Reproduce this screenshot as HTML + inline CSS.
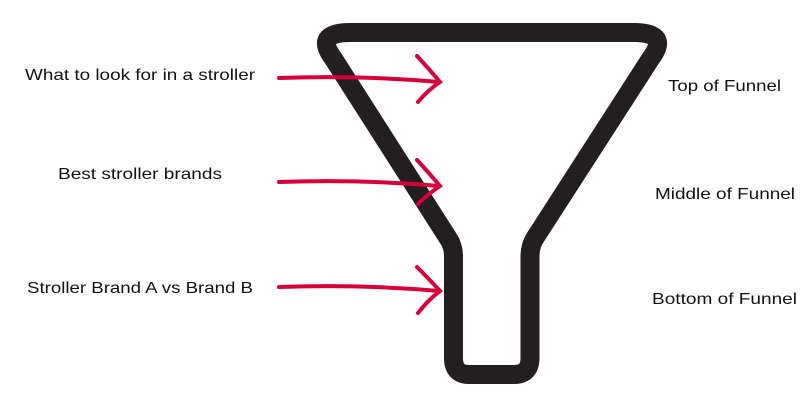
<!DOCTYPE html>
<html><head><meta charset="utf-8"><style>html,body{margin:0;padding:0;background:#fff;}svg{display:block}</style></head>
<body>
<svg width="805" height="404" viewBox="0 0 805 404" xmlns="http://www.w3.org/2000/svg">
<path d="M350,32.5 H634 Q670,32.5 651,58 L535,238 Q530,246 530,256 V358 Q530,374.5 514,374.5 H469 Q453.5,374.5 453.5,358 V256 Q453.5,246 448,238 L333,58 Q314,32.5 350,32.5 Z" fill="none" stroke="#231f20" stroke-width="19" stroke-linejoin="round"/>
<g fill="none" stroke="#d8003a" stroke-width="4" stroke-linecap="round">
<path d="M279,78 Q360,75 439,82"/><path d="M417,56 Q430,70 440,82 Q428,90 418,102"/>
<path d="M279,182 Q360,179 439,186"/><path d="M417,160 Q430,174 440,186 Q428,194 418,204"/>
<path d="M279,287 Q360,284 439,291"/><path d="M417,267 Q430,280 440,291 Q428,300 418,313"/>
</g>
<g font-family="Liberation Sans, sans-serif" font-size="16" fill="#111">
<text x="25" y="80" textLength="230" lengthAdjust="spacingAndGlyphs">What to look for in a stroller</text>
<text x="58" y="179" textLength="164" lengthAdjust="spacingAndGlyphs">Best stroller brands</text>
<text x="27" y="293" textLength="226" lengthAdjust="spacingAndGlyphs">Stroller Brand A vs Brand B</text>
<text x="668" y="91" textLength="113" lengthAdjust="spacingAndGlyphs">Top of Funnel</text>
<text x="655" y="199" textLength="140" lengthAdjust="spacingAndGlyphs">Middle of Funnel</text>
<text x="652" y="304" textLength="145" lengthAdjust="spacingAndGlyphs">Bottom of Funnel</text>
</g>
</svg>
</body></html>
